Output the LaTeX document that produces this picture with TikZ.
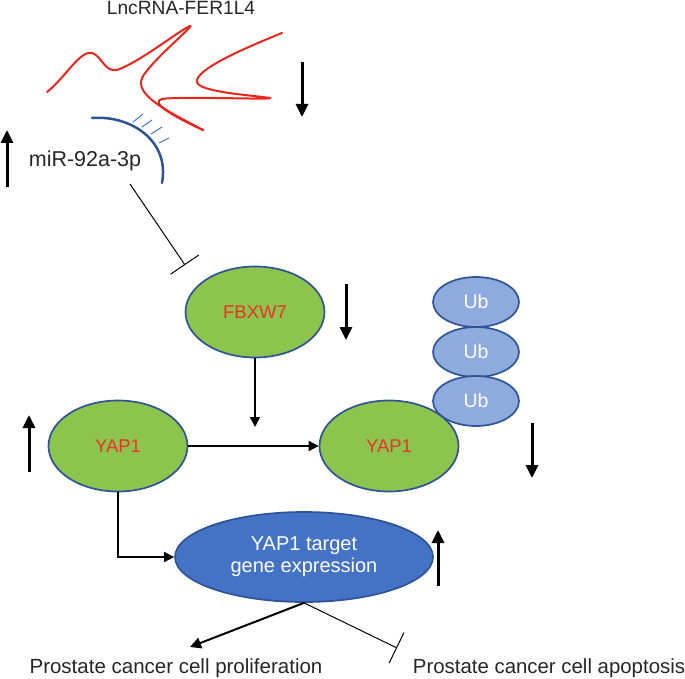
\documentclass[tikz,border=0pt]{standalone}
\usepackage{fontspec}
\setmainfont{Liberation Sans}
\usetikzlibrary{shapes.geometric,arrows.meta}

\definecolor{leaf}{RGB}{140,196,78}
\definecolor{rim}{RGB}{47,84,150}
\definecolor{ubfill}{RGB}{143,170,220}
\definecolor{deepblue}{RGB}{68,114,196}
\definecolor{rnared}{RGB}{232,38,28}
\definecolor{txtred}{RGB}{232,52,40}

\newcommand{\fsz}[1]{\fontsize{#1}{#1}\selectfont}

\begin{document}
\begin{tikzpicture}[x=1pt, y=-1pt]
    \tikzstyle{protein}=[ellipse, draw=rim, line width=1.7pt, fill=leaf, text=txtred,
        minimum width=139pt, minimum height=91pt, inner sep=0pt, font=\fsz{18.5}]
    \tikzstyle{ubq}=[ellipse, draw=rim, line width=1.7pt, fill=ubfill, text=white,
        minimum width=86pt, minimum height=50pt, inner sep=0pt, font=\fsz{19.5}]
    \tikzstyle{target}=[ellipse, draw=rim, line width=1.7pt, fill=deepblue, text=white,
        minimum width=258pt, minimum height=90pt, inner sep=0pt, align=center, font=\fsz{20}]
    \tikzstyle{label}=[inner sep=0pt, anchor=base, text=black!85]
    \tikzstyle{trend}=[line width=3pt, -{Triangle[width=12pt,length=13pt]}]
    \tikzstyle{act}=[line width=1.6pt, -{Triangle[width=10pt,length=10pt]}]
    \tikzstyle{inhib}=[line width=1pt, -{Bar[width=34pt]}]

    \useasboundingbox (0,0) rectangle (685,679);

    % LncRNA strand
    \draw[rnared, line width=2pt, line cap=round]
        (47,92) .. controls (65,78) and (80,50) .. (92,53)
        .. controls (102,56) and (104,72) .. (117,70)
        .. controls (140,62) and (180,30) .. (190,26)
        .. controls (195,25) and (150,62) .. (142,78)
        .. controls (135,95) and (165,110) .. (203,130);
    \draw[rnared, line width=2pt, line cap=round]
        (282,33) .. controls (240,50) and (195,70) .. (197,82)
        .. controls (199,92) and (250,95) .. (270,98)
        .. controls (275,100) and (180,96) .. (162,99)
        .. controls (150,102) and (170,115) .. (203,130);
    \node[label, font=\fsz{19.2}] (lnc) at (181,15) {LncRNA-FER1L4};

    % miRNA strand and its pairing ticks
    \draw[rim, line width=2.5pt, line cap=round]
        (92,118) .. controls (130,115) and (170,140) .. (162,183);
    \foreach \xa / \ya / \xb / \yb in {133/122/143/114, 142/127/152/120, 151/134/162/127, 159/143/169/138}
        \draw[deepblue, line width=1pt] (\xa,\ya) -- (\xb,\yb);
    \node[label, font=\fsz{21.5}] (mir) at (85,167) {miR-92a-3p};
    \coordinate (mir-end) at (130,184);

    % Proteins
    \node[protein] (fbxw7) at (255,312) {FBXW7};
    \node[protein] (yap-free) at (118,446) {YAP1};
    \node[protein] (yap-ub) at (389,446) {YAP1};

    % Ubiquitin chain
    \foreach \name / \y in {1/302, 2/352, 3/401}
        \node[ubq] (ub-\name) at (476,\y) {Ub};

    % Target gene expression
    \node[target] (genes) at (304,557) {YAP1 target\\[2pt]gene expression};

    % Outcomes
    \node[label, font=\fsz{20.5}] (prolif) at (176,673) {Prostate cancer cell proliferation};
    \node[label, font=\fsz{20.4}] (apopt) at (549,673) {Prostate cancer cell apoptosis};

    % Connectors
    \coordinate (fbxw7-hit) at (255,427);
    \coordinate (mir-hit) at (185,265);
    \coordinate (prolif-hit) at (190,647);
    \coordinate (apopt-hit) at (397,648);
    \draw[inhib] (mir-end) -- (mir-hit);
    \draw[act] (fbxw7.south) -- (fbxw7-hit);
    \draw[act] (yap-free.east) -- (yap-ub.west);
    \draw[act] (yap-free.south) |- (genes.west);
    \draw[line width=2pt, -{Triangle[width=11pt,length=11pt]}] (genes.south) -- (prolif-hit);
    \draw[inhib] (genes.south) -- (apopt-hit);

    % Up and down trends
    \draw[trend] (7,187) -- (7,130);
    \draw[trend] (302,62) -- (302,117);
    \draw[trend] (346,284) -- (346,340);
    \draw[trend] (29,472) -- (29,415);
    \draw[trend] (532,423) -- (532,478);
    \draw[trend] (438,586) -- (438,530);
\end{tikzpicture}
\end{document}
